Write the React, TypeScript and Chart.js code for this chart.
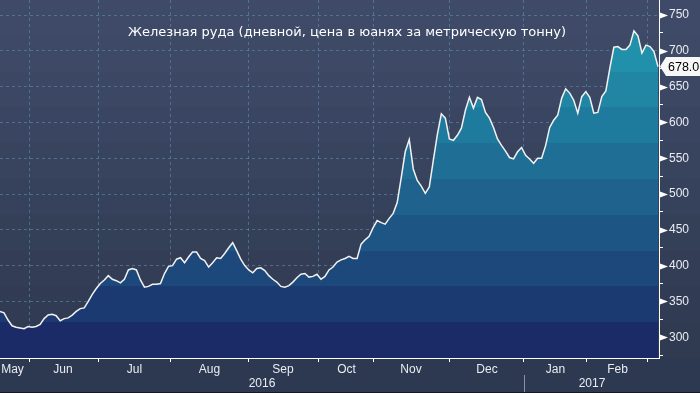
import React, { useEffect, useRef } from 'react';
import { Chart, registerables } from 'chart.js';

Chart.register(...registerables);

const TITLE = 'Железная руда (дневной, цена в юанях за метрическую тонну)';

// daily iron ore price, yuan per tonne (one value per step)
const prices = [
  336, 334, 324, 316, 314, 313, 312, 315, 314, 315,
  318, 326, 331, 332, 330, 323, 326, 327, 331, 336,
  340, 341, 350, 360, 368, 375, 380, 386, 381, 379,
  376, 381, 394, 396, 394, 380, 370, 371, 374, 374,
  375, 389, 399, 400, 409, 411, 404, 412, 419, 419,
  410, 407, 398, 404, 411, 410, 417, 425, 432, 421,
  409, 400, 394, 390, 396, 397, 393, 386, 381, 377,
  371, 370, 372, 377, 383, 388, 389, 384, 385, 388,
  381, 385, 394, 398, 405, 408, 410, 413, 410, 410,
  430, 436, 441, 453, 463, 460, 458, 466, 473, 488,
  523, 559, 576, 535, 519, 511, 501, 510, 547, 583,
  612, 606, 577, 575, 582, 592, 617, 635, 620, 635,
  632, 614, 606, 593, 577, 568, 560, 551, 549, 559,
  565, 554, 549, 543, 550, 550, 568, 593, 603, 610,
  634, 647, 641, 631, 613, 636, 643, 635, 613, 614,
  636, 644, 676, 705, 706, 702, 702, 708, 728, 721,
  697, 708, 706, 699, 678,
];

const xMax = 164.25;
const monthNames = ['May', 'Jun', 'Jul', 'Aug', 'Sep', 'Oct', 'Nov', 'Dec', 'Jan', 'Feb'];
const monthCenters = [3.12, 15.7, 33.52, 52.22, 70.54, 86.36, 102.44, 121.38, 138.45, 153.9];
const monthStarts = [7.23, 24.43, 42.62, 62.06, 79.26, 92.97, 111.91, 130.6, 146.3, 161.5];
const years = ['2016', '2017'];
const yearCenters = [65.3, 147.55];
const yearBreak = 130.6;
const yTickValues = [275, 300, 325, 350, 375, 400, 425, 450, 475, 500, 525, 550, 575, 600, 625, 650, 675, 700, 725, 750];
const yMin = 271;
const yMax = 771;
const lastLabel = '678.0';

const FONT = '"Liberation Sans", Arial, sans-serif';
const GRID = 'rgba(95, 140, 180, 0.6)';
const TEXT = '#e9ecf2';

const BG_BANDS = ['#3e4a67', '#3d4965', '#3b4763', '#3a4561', '#38435e', '#36415b', '#343f58', '#333d56', '#313b53', '#303a51'];
const FILL_BANDS = ['#2398b1', '#2190ab', '#2086a4', '#1f7b9d', '#1e6e95', '#1e628d', '#1d5584', '#1d487b', '#1c3a72', '#1b2b67'];

function stepped(g: CanvasGradient, colors: string[]) {
  const n = colors.length;
  colors.forEach((c, k) => {
    g.addColorStop(k / n, c);
    g.addColorStop((k + 1) / n, c);
  });
  return g;
}

type XT = { value: number; label: string | string[]; kind: 'b' | 'm' | 'y' };
const xTicks: XT[] = [
  ...monthStarts.map((v) => ({ value: v, label: '', kind: 'b' as const })),
  ...monthCenters.map((v, i) => ({ value: v, label: monthNames[i], kind: 'm' as const })),
  ...yearCenters.map((v, i) => ({ value: v, label: ['', years[i]], kind: 'y' as const })),
].sort((a, b) => a.value - b.value);

const bgPlugin = {
  id: 'bgBands',
  beforeDraw(chart: any) {
    const { ctx, width, height, chartArea } = chart;
    ctx.save();
    const g = stepped(ctx.createLinearGradient(0, 0, 0, chartArea.bottom), BG_BANDS);
    ctx.fillStyle = g;
    ctx.fillRect(0, 0, width, chartArea.bottom);
    ctx.fillStyle = '#2d3951';
    ctx.fillRect(0, chartArea.bottom, width, height - chartArea.bottom);
    ctx.restore();
  },
};

const overlayPlugin = {
  id: 'overlay',
  afterDraw(chart: any) {
    const { ctx, width, height, chartArea, scales } = chart;
    const ys = scales.y;
    const xs = scales.x;
    ctx.save();
    // title
    ctx.font = '13px "DejaVu Sans", sans-serif';
    ctx.fillStyle = '#ffffff';
    ctx.textAlign = 'center';
    ctx.textBaseline = 'middle';
    ctx.fillText(TITLE, 347, 33);

    // triangles on major y ticks
    ctx.fillStyle = '#ffffff';
    yTickValues.filter((v) => v % 50 === 0).forEach((v) => {
      const y = Math.round(ys.getPixelForValue(v)) + 0.5;
      const x0 = chartArea.right + 1;
      ctx.beginPath();
      ctx.moveTo(x0, y - 3);
      ctx.lineTo(x0 + 8, y);
      ctx.lineTo(x0, y + 3);
      ctx.closePath();
      ctx.fill();
    });

    // last value label
    const lv = prices[prices.length - 1];
    const ly = ys.getPixelForValue(lv);
    const lx = chartArea.right + 1;
    ctx.fillStyle = '#f7f7f7';
    ctx.beginPath();
    ctx.moveTo(lx, ly);
    ctx.lineTo(lx + 6, ly - 9.5);
    ctx.lineTo(width, ly - 9.5);
    ctx.lineTo(width, ly + 9.5);
    ctx.lineTo(lx + 6, ly + 9.5);
    ctx.closePath();
    ctx.fill();
    ctx.fillStyle = '#000000';
    ctx.font = '12.5px ' + FONT;
    ctx.textAlign = 'left';
    ctx.fillText(lastLabel, lx + 8, ly + 0.5);

    // year separator
    const sx = Math.round(xs.getPixelForValue(yearBreak)) + 0.5;
    ctx.strokeStyle = '#8c929c';
    ctx.lineWidth = 1;
    ctx.beginPath();
    ctx.moveTo(sx, chartArea.bottom + 17);
    ctx.lineTo(sx, height);
    ctx.stroke();

    // bottom edge
    ctx.fillStyle = '#15181f';
    ctx.fillRect(0, height - 1, width, 1);
    ctx.restore();
  },
};

export default function App() {
  const ref = useRef<HTMLCanvasElement | null>(null);

  useEffect(() => {
    if (!ref.current) return;
    const chart = new Chart(ref.current, {
      type: 'line',
      data: {
        datasets: [
          {
            data: prices.map((v, i) => ({ x: i, y: v })),
            borderColor: '#f2f2f2',
            borderWidth: 1.5,
            pointRadius: 0,
            tension: 0,
            fill: 'start',
            backgroundColor: (c: any) => {
              const area = c.chart.chartArea;
              if (!area) return 'transparent';
              return stepped(c.chart.ctx.createLinearGradient(0, 0, 0, area.bottom), FILL_BANDS);
            },
          },
        ],
      },
      options: {
        responsive: false,
        animation: false,
        devicePixelRatio: 1,
        layout: { padding: 0 },
        plugins: { legend: { display: false }, tooltip: { enabled: false }, title: { display: false } },
        scales: {
          x: {
            type: 'linear',
            position: 'bottom',
            min: 0,
            max: xMax,
            z: 1,
            afterBuildTicks: (s: any) => {
              s.ticks = xTicks.map((t) => ({ value: t.value }));
            },
            afterFit: (s: any) => {
              s.height = 35;
              s.paddingLeft = 0;
              s.paddingRight = 0;
              s.paddingTop = 0;
              s.paddingBottom = 0;
            },
            ticks: {
              autoSkip: false,
              maxRotation: 0,
              padding: 0,
              color: TEXT,
              font: { family: FONT, size: 12 },
              callback: (_v: any, i: number) => xTicks[i].label,
            },
            grid: {
              color: (c: any) => (xTicks[c.index] && xTicks[c.index].kind === 'b' ? GRID : 'transparent'),
              tickColor: (c: any) => (xTicks[c.index] && xTicks[c.index].kind === 'b' ? '#ffffff' : 'transparent'),
              tickLength: 4,
              lineWidth: 1,
            },
            border: { color: '#ffffff', width: 1, dash: [3, 3] },
          },
          y: {
            type: 'linear',
            position: 'right',
            min: yMin,
            max: yMax,
            z: 1,
            afterBuildTicks: (s: any) => {
              s.ticks = yTickValues.map((v) => ({ value: v }));
            },
            afterFit: (s: any) => {
              s.width = 41;
              s.paddingLeft = 0;
              s.paddingRight = 0;
              s.paddingTop = 0;
              s.paddingBottom = 0;
            },
            ticks: {
              autoSkip: false,
              padding: 6,
              color: TEXT,
              font: { family: FONT, size: 12 },
              callback: (v: any) => (Number(v) % 50 === 0 ? String(v) : ''),
            },
            grid: {
              color: (c: any) => (c.tick && c.tick.value % 50 === 0 ? GRID : 'transparent'),
              tickColor: '#ffffff',
              tickLength: 4,
              lineWidth: 1,
            },
            border: { color: '#ffffff', width: 1, dash: [3, 3] },
          },
        },
      },
      plugins: [bgPlugin, overlayPlugin],
    } as any);
    return () => chart.destroy();
  }, []);

  return (
    <div style={{ position: 'fixed', left: 0, top: 0, width: 700, height: 393 }}>
      <canvas ref={ref} width={700} height={393} style={{ display: 'block' }} />
    </div>
  );
}
